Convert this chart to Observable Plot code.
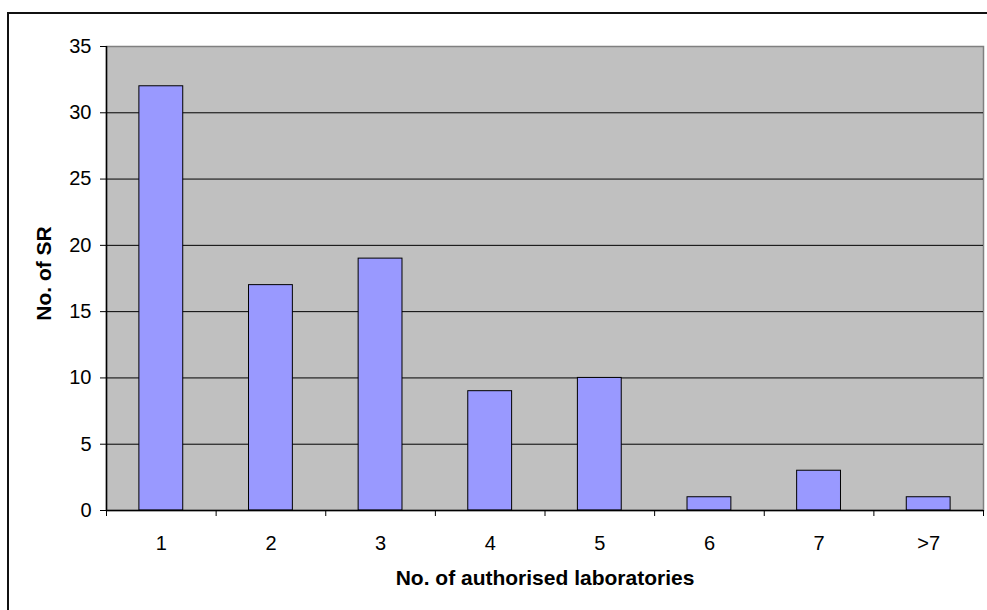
<!DOCTYPE html>
<html>
<head>
<meta charset="utf-8">
<script src="https://cdn.jsdelivr.net/npm/d3@7"></script>
<script src="https://cdn.jsdelivr.net/npm/@observablehq/plot@0.6"></script>
<style>
  html, body { margin: 0; padding: 0; background: #fff; }
  #wrap { position: relative; width: 987px; height: 610px; overflow: hidden; }
  #border { position: absolute; left: 7px; top: 12px; width: 1200px; height: 800px;
            border-left: 2px solid #111; border-top: 2px solid #111; box-sizing: border-box; }
  #chart { position: absolute; left: 0; top: 0; }
</style>
</head>
<body>
<div id="wrap"><div id="border"></div><div id="chart"></div></div>
<script>
// Number of SR by number of authorised laboratories
const categories = ["1", "2", "3", "4", "5", "6", "7", ">7"];
const counts = [32, 17, 19, 9, 10, 1, 3, 1];
const yTicks = [0, 5, 10, 15, 20, 25, 30, 35];

const data = categories.map((c, i) => ({category: c, pos: i + 1, count: counts[i]}));
const boundaries = d3.range(0, categories.length + 1).map(i => i + 0.5);
const halfBar = 0.2;

const chart = Plot.plot({
  width: 987,
  height: 610,
  marginLeft: 106,
  marginRight: 4,
  marginTop: 46,
  marginBottom: 100,
  style: {fontFamily: "'Liberation Sans', Arial, sans-serif", fontSize: "20px", background: "transparent", color: "#000", overflow: "visible"},
  x: {type: "linear", domain: [0.5, categories.length + 0.5]},
  y: {domain: [0, 35]},
  marks: [
    Plot.frame({fill: "#C0C0C0", stroke: "#808080", strokeWidth: 1.5}),
    Plot.ruleY(yTicks.filter(v => v > 0 && v < 35), {stroke: "#000", strokeWidth: 1}),
    Plot.rectY(data, {
      x1: d => d.pos - halfBar,
      x2: d => d.pos + halfBar,
      y1: 0,
      y2: "count",
      fill: "#9999FF",
      stroke: "#000",
      strokeWidth: 1
    }),
    Plot.ruleY([0], {stroke: "#000", strokeWidth: 1.5}),
    Plot.ruleX([0.5], {stroke: "#000", strokeWidth: 1.5}),
    Plot.axisY({ticks: yTicks, tickSize: 6, tickPadding: 9, label: null, stroke: "#000", fontSize: 20}),
    Plot.axisX({ticks: boundaries, tickSize: 6, tickFormat: () => "", label: null, stroke: "#000"}),
    Plot.axisX({ticks: data.map(d => d.pos), tickSize: 0, tickPadding: 25, tickFormat: v => categories[v - 1], label: null, fontSize: 20}),
    Plot.text(["No. of SR"], {frameAnchor: "left", dx: -62, dy: -5, rotate: -90, textAnchor: "middle", text: d => d, fontWeight: "bold", fontSize: 21}),
    Plot.text(["No. of authorised laboratories"], {frameAnchor: "bottom", dy: 74, textAnchor: "middle", text: d => d, fontWeight: "bold", fontSize: 21})
  ]
});

document.getElementById("chart").appendChild(chart);
</script>
</body>
</html>
